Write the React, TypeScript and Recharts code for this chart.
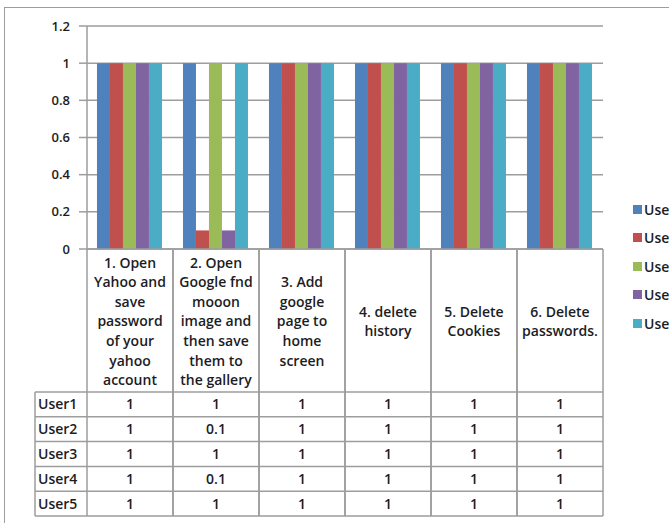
// App.tsx
import { BarChart, Bar, XAxis, YAxis, CartesianGrid, Legend } from "recharts";

// header text for each task column, already split into lines
const taskLines: string[][] = [
  ["1. Open", "Yahoo and", "save", "password", "of your", "yahoo", "account"],
  ["2. Open", "Google fnd", "mooon", "image and", "then save", "them to", "the gallery"],
  ["3. Add", "google", "page to", "home", "screen"],
  ["4. delete", "history"],
  ["5. Delete", "Cookies"],
  ["6. Delete", "passwords."],
];

const users = ["User1", "User2", "User3", "User4", "User5"];
const user1 = [1, 1, 1, 1, 1, 1];
const user2 = [1, 0.1, 1, 1, 1, 1];
const user3 = [1, 1, 1, 1, 1, 1];
const user4 = [1, 0.1, 1, 1, 1, 1];
const user5 = [1, 1, 1, 1, 1, 1];
const yTicks = [0, 0.2, 0.4, 0.6, 0.8, 1, 1.2];
const colors = ["#4F81BD", "#C0504D", "#9BBB59", "#8064A2", "#4BACC6"];

const series = [user1, user2, user3, user4, user5];

const data = taskLines.map((lines, i) => {
  const row: Record<string, string | number> = { task: lines.join(" ") };
  users.forEach((u, k) => {
    row[u] = series[k][i];
  });
  return row;
});

const FONT = "'Open Sans', sans-serif";
const TEXT = "#1c1c24";
const LINE = "#9d9d9d";
const HEADER_H = 143;
const ROW_H = 24.8;
const LABEL_W = 52;
const LINE_GAP = 19.6;

// draws one column of the data table under the axis
const TableTick = (props: any) => {
  const { x, y, payload, index } = props;
  const half = payload?.offset || 43;
  const lines = taskLines[index] || [];
  const left = x - half;
  const right = x + half;
  const tableTop = y + HEADER_H;
  const bottom = tableTop + ROW_H * users.length;
  const mid = y + HEADER_H / 2 + 1;
  return (
    <g fontFamily={FONT} fontSize={14} fontWeight={600} fill={TEXT}>
      <line x1={left} y1={y} x2={left} y2={bottom} stroke={LINE} strokeWidth={1.5} />
      <line x1={right} y1={y} x2={right} y2={bottom} stroke={LINE} strokeWidth={1.5} />
      {lines.map((t, i) => (
        <text
          key={t}
          x={x}
          y={mid + (i - (lines.length - 1) / 2) * LINE_GAP}
          dy="0.35em"
          textAnchor="middle"
        >
          {t}
        </text>
      ))}
      {users.map((u, k) => (
        <g key={u}>
          <line
            x1={left}
            y1={tableTop + k * ROW_H}
            x2={right}
            y2={tableTop + k * ROW_H}
            stroke={LINE}
            strokeWidth={1.5}
          />
          <text x={x} y={tableTop + (k + 0.5) * ROW_H} dy="0.35em" textAnchor="middle">
            {String(series[k][index])}
          </text>
        </g>
      ))}
      <line x1={left} y1={bottom} x2={right} y2={bottom} stroke={LINE} strokeWidth={1.5} />
      {index === 0 && (
        <g>
          <line
            x1={left - LABEL_W}
            y1={tableTop}
            x2={left - LABEL_W}
            y2={bottom}
            stroke={LINE}
            strokeWidth={1.5}
          />
          {users.map((u, k) => (
            <g key={u}>
              <line
                x1={left - LABEL_W}
                y1={tableTop + k * ROW_H}
                x2={left}
                y2={tableTop + k * ROW_H}
                stroke={LINE}
                strokeWidth={1.5}
              />
              <text
                x={left - LABEL_W + 3}
                y={tableTop + (k + 0.5) * ROW_H}
                dy="0.35em"
                textAnchor="start"
              >
                {u}
              </text>
            </g>
          ))}
          <line
            x1={left - LABEL_W}
            y1={bottom}
            x2={left}
            y2={bottom}
            stroke={LINE}
            strokeWidth={1.5}
          />
        </g>
      )}
    </g>
  );
};

const LegendList = (props: any) => {
  const items = props.payload || [];
  return (
    <div style={{ fontFamily: FONT, fontSize: 14, fontWeight: 600, color: TEXT }}>
      {items.map((it: any) => (
        <div
          key={it.value}
          style={{ display: "flex", alignItems: "center", height: 28.5, whiteSpace: "nowrap" }}
        >
          <span
            style={{ width: 9, height: 9, background: it.color, marginRight: 2, display: "inline-block" }}
          />
          <span>{it.value}</span>
        </div>
      ))}
    </div>
  );
};

export default function App() {
  return (
    <div
      style={{
        position: "absolute",
        left: 0,
        top: 0,
        width: 669,
        height: 523,
        overflow: "hidden",
        background: "#fff",
      }}
    >
      <div
        style={{
          position: "absolute",
          left: 4,
          top: 7,
          width: 720,
          height: 560,
          border: `1.5px solid ${LINE}`,
        }}
      />
      <div style={{ position: "absolute", left: 0, top: 0 }}>
        <BarChart
          width={669}
          height={523}
          data={data}
          margin={{ top: 26, right: 66, bottom: 0, left: 0 }}
          barCategoryGap="11.6%"
          barGap={0}
        >
          <CartesianGrid vertical={false} stroke={LINE} strokeWidth={1.5} />
          <XAxis
            dataKey="task"
            height={274}
            interval={0}
            tickSize={0}
            tickMargin={0}
            tickLine={false}
            axisLine={{ stroke: LINE, strokeWidth: 1.5 }}
            tick={<TableTick />}
          />
          <YAxis
            width={87}
            domain={[0, 1.2]}
            ticks={yTicks}
            tickFormatter={(v: number) => String(v)}
            tickSize={8}
            tickMargin={9}
            axisLine={{ stroke: LINE, strokeWidth: 1.5 }}
            tickLine={{ stroke: LINE, strokeWidth: 1.5 }}
            tick={{ fontFamily: FONT, fontSize: 13, fill: TEXT, fontWeight: 600 }}
          />
          <Legend
            layout="vertical"
            align="center"
            verticalAlign="middle"
            wrapperStyle={{ left: 633, top: 195, width: "auto" }}
            content={<LegendList />}
          />
          {users.map((u, k) => (
            <Bar key={u} dataKey={u} fill={colors[k]} isAnimationActive={false} />
          ))}
        </BarChart>
      </div>
    </div>
  );
}
